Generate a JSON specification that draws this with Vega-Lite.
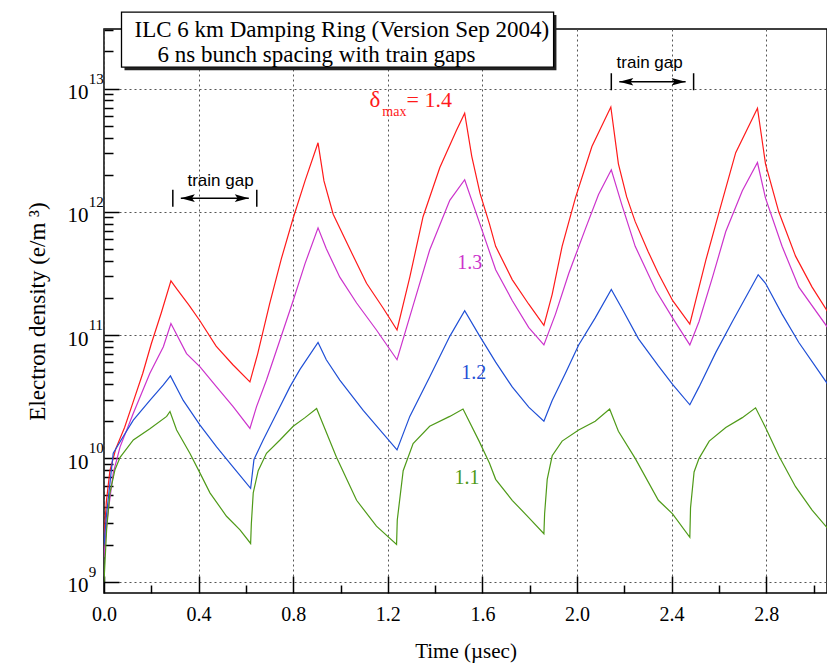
{
  "$schema": "https://vega.github.io/schema/vega-lite/v6.json",
  "width": 723,
  "height": 564,
  "autosize": "none",
  "padding": {"left": 104, "top": 29, "right": 0, "bottom": 73},
  "background": "white",
  "config": {"view": {"stroke": "black", "strokeWidth": 1.5}, "font": "Liberation Serif"},
  "resolve": {"axis": {"x": "independent", "y": "independent"}},
  "datasets": {
    "curves": [
      {"s":"1.4","t":0,"v":2.24e9},{"s":"1.4","t":0.01,"v":4.47e9},{"s":"1.4","t":0.025,"v":7.94e9},{"s":"1.4","t":0.05,"v":1.2e10},{"s":"1.4","t":0.087,"v":1.78e10},{"s":"1.4","t":0.122,"v":2.82e10},{"s":"1.4","t":0.164,"v":4.9e10},{"s":"1.4","t":0.2,"v":8.51e10},{"s":"1.4","t":0.242,"v":1.51e11},{"s":"1.4","t":0.283,"v":2.75e11},{"s":"1.4","t":0.31,"v":2.34e11},{"s":"1.4","t":0.36,"v":1.74e11},{"s":"1.4","t":0.404,"v":1.32e11},{"s":"1.4","t":0.474,"v":8.13e10},{"s":"1.4","t":0.545,"v":5.75e10},{"s":"1.4","t":0.617,"v":4.17e10},{"s":"1.4","t":0.65,"v":7.08e10},{"s":"1.4","t":0.7,"v":1.78e11},{"s":"1.4","t":0.75,"v":4.17e11},{"s":"1.4","t":0.8,"v":8.91e11},{"s":"1.4","t":0.85,"v":1.78e12},{"s":"1.4","t":0.905,"v":3.63e12},{"s":"1.4","t":0.93,"v":1.78e12},{"s":"1.4","t":0.969,"v":9.55e11},{"s":"1.4","t":1.039,"v":5.01e11},{"s":"1.4","t":1.11,"v":2.63e11},{"s":"1.4","t":1.18,"v":1.66e11},{"s":"1.4","t":1.239,"v":1.1e11},{"s":"1.4","t":1.293,"v":2.95e11},{"s":"1.4","t":1.349,"v":9.12e11},{"s":"1.4","t":1.42,"v":2.29e12},{"s":"1.4","t":1.49,"v":4.57e12},{"s":"1.4","t":1.525,"v":6.31e12},{"s":"1.4","t":1.555,"v":2.82e12},{"s":"1.4","t":1.59,"v":1.41e12},{"s":"1.4","t":1.63,"v":7.94e11},{"s":"1.4","t":1.656,"v":5.25e11},{"s":"1.4","t":1.726,"v":2.82e11},{"s":"1.4","t":1.796,"v":1.78e11},{"s":"1.4","t":1.86,"v":1.2e11},{"s":"1.4","t":1.895,"v":2.14e11},{"s":"1.4","t":1.937,"v":5.25e11},{"s":"1.4","t":1.993,"v":1.29e12},{"s":"1.4","t":2.063,"v":3.39e12},{"s":"1.4","t":2.143,"v":7.08e12},{"s":"1.4","t":2.175,"v":2.45e12},{"s":"1.4","t":2.21,"v":1.32e12},{"s":"1.4","t":2.246,"v":8.32e11},{"s":"1.4","t":2.3,"v":4.79e11},{"s":"1.4","t":2.344,"v":3.16e11},{"s":"1.4","t":2.404,"v":1.91e11},{"s":"1.4","t":2.477,"v":1.23e11},{"s":"1.4","t":2.502,"v":1.91e11},{"s":"1.4","t":2.545,"v":4.07e11},{"s":"1.4","t":2.601,"v":1e12},{"s":"1.4","t":2.671,"v":3.02e12},{"s":"1.4","t":2.763,"v":6.92e12},{"s":"1.4","t":2.797,"v":2.45e12},{"s":"1.4","t":2.853,"v":1e12},{"s":"1.4","t":2.924,"v":4.37e11},{"s":"1.4","t":2.994,"v":2.45e11},{"s":"1.4","t":3.06,"v":1.55e11},
      {"s":"1.3","t":0,"v":1.58e9},{"s":"1.3","t":0.011,"v":2.95e9},{"s":"1.3","t":0.039,"v":7.59e9},{"s":"1.3","t":0.068,"v":1.24e10},{"s":"1.3","t":0.124,"v":2.32e10},{"s":"1.3","t":0.194,"v":4.9e10},{"s":"1.3","t":0.251,"v":8.04e10},{"s":"1.3","t":0.283,"v":1.24e11},{"s":"1.3","t":0.349,"v":7.08e10},{"s":"1.3","t":0.406,"v":5.53e10},{"s":"1.3","t":0.476,"v":3.8e10},{"s":"1.3","t":0.546,"v":2.63e10},{"s":"1.3","t":0.617,"v":1.75e10},{"s":"1.3","t":0.645,"v":2.63e10},{"s":"1.3","t":0.687,"v":4.32e10},{"s":"1.3","t":0.744,"v":9.12e10},{"s":"1.3","t":0.8,"v":1.91e11},{"s":"1.3","t":0.85,"v":3.8e11},{"s":"1.3","t":0.905,"v":7.41e11},{"s":"1.3","t":0.94,"v":5.01e11},{"s":"1.3","t":0.997,"v":2.95e11},{"s":"1.3","t":1.068,"v":1.82e11},{"s":"1.3","t":1.152,"v":1.1e11},{"s":"1.3","t":1.239,"v":6.31e10},{"s":"1.3","t":1.293,"v":1.41e11},{"s":"1.3","t":1.377,"v":4.9e11},{"s":"1.3","t":1.462,"v":1.24e12},{"s":"1.3","t":1.525,"v":1.82e12},{"s":"1.3","t":1.586,"v":8.32e11},{"s":"1.3","t":1.656,"v":3.39e11},{"s":"1.3","t":1.726,"v":1.91e11},{"s":"1.3","t":1.796,"v":1.15e11},{"s":"1.3","t":1.86,"v":8.32e10},{"s":"1.3","t":1.909,"v":1.48e11},{"s":"1.3","t":1.965,"v":3.16e11},{"s":"1.3","t":2.035,"v":7.24e11},{"s":"1.3","t":2.091,"v":1.38e12},{"s":"1.3","t":2.145,"v":2.19e12},{"s":"1.3","t":2.189,"v":1.15e12},{"s":"1.3","t":2.246,"v":5.25e11},{"s":"1.3","t":2.334,"v":2.29e11},{"s":"1.3","t":2.404,"v":1.38e11},{"s":"1.3","t":2.477,"v":8.32e10},{"s":"1.3","t":2.516,"v":1.29e11},{"s":"1.3","t":2.573,"v":2.95e11},{"s":"1.3","t":2.629,"v":6.92e11},{"s":"1.3","t":2.699,"v":1.48e12},{"s":"1.3","t":2.763,"v":2.51e12},{"s":"1.3","t":2.797,"v":1.29e12},{"s":"1.3","t":2.867,"v":5.25e11},{"s":"1.3","t":2.938,"v":2.45e11},{"s":"1.3","t":3.06,"v":1.15e11},
      {"s":"1.2","t":0,"v":2.0e9},{"s":"1.2","t":0.011,"v":3.55e9},{"s":"1.2","t":0.039,"v":1.1e10},{"s":"1.2","t":0.082,"v":1.51e10},{"s":"1.2","t":0.124,"v":2.04e10},{"s":"1.2","t":0.194,"v":2.95e10},{"s":"1.2","t":0.251,"v":3.94e10},{"s":"1.2","t":0.281,"v":4.66e10},{"s":"1.2","t":0.335,"v":2.95e10},{"s":"1.2","t":0.406,"v":1.86e10},{"s":"1.2","t":0.476,"v":1.24e10},{"s":"1.2","t":0.546,"v":8.51e9},{"s":"1.2","t":0.62,"v":5.71e9},{"s":"1.2","t":0.634,"v":9.77e9},{"s":"1.2","t":0.673,"v":1.41e10},{"s":"1.2","t":0.73,"v":2.32e10},{"s":"1.2","t":0.786,"v":3.8e10},{"s":"1.2","t":0.828,"v":5.25e10},{"s":"1.2","t":0.905,"v":8.71e10},{"s":"1.2","t":0.94,"v":6.31e10},{"s":"1.2","t":0.997,"v":4.32e10},{"s":"1.2","t":1.096,"v":2.45e10},{"s":"1.2","t":1.239,"v":1.17e10},{"s":"1.2","t":1.293,"v":2.19e10},{"s":"1.2","t":1.377,"v":4.57e10},{"s":"1.2","t":1.462,"v":9.77e10},{"s":"1.2","t":1.525,"v":1.58e11},{"s":"1.2","t":1.586,"v":1.0e11},{"s":"1.2","t":1.656,"v":6.03e10},{"s":"1.2","t":1.726,"v":3.8e10},{"s":"1.2","t":1.796,"v":2.6e10},{"s":"1.2","t":1.86,"v":2.0e10},{"s":"1.2","t":1.895,"v":2.95e10},{"s":"1.2","t":1.951,"v":4.9e10},{"s":"1.2","t":2.007,"v":8.32e10},{"s":"1.2","t":2.077,"v":1.38e11},{"s":"1.2","t":2.145,"v":2.34e11},{"s":"1.2","t":2.189,"v":1.66e11},{"s":"1.2","t":2.26,"v":9.33e10},{"s":"1.2","t":2.344,"v":5.62e10},{"s":"1.2","t":2.404,"v":3.98e10},{"s":"1.2","t":2.477,"v":2.72e10},{"s":"1.2","t":2.516,"v":3.8e10},{"s":"1.2","t":2.587,"v":7.24e10},{"s":"1.2","t":2.657,"v":1.29e11},{"s":"1.2","t":2.766,"v":3.09e11},{"s":"1.2","t":2.797,"v":2.63e11},{"s":"1.2","t":2.867,"v":1.48e11},{"s":"1.2","t":2.938,"v":8.71e10},{"s":"1.2","t":3.06,"v":4.0e10},
      {"s":"1.1","t":0,"v":1.0e9},{"s":"1.1","t":0.011,"v":2.63e9},{"s":"1.1","t":0.025,"v":5.25e9},{"s":"1.1","t":0.046,"v":8.04e9},{"s":"1.1","t":0.068,"v":1.02e10},{"s":"1.1","t":0.124,"v":1.41e10},{"s":"1.1","t":0.194,"v":1.74e10},{"s":"1.1","t":0.265,"v":2.19e10},{"s":"1.1","t":0.279,"v":2.4e10},{"s":"1.1","t":0.307,"v":1.7e10},{"s":"1.1","t":0.363,"v":1.1e10},{"s":"1.1","t":0.406,"v":7.59e9},{"s":"1.1","t":0.448,"v":5.25e9},{"s":"1.1","t":0.518,"v":3.39e9},{"s":"1.1","t":0.575,"v":2.63e9},{"s":"1.1","t":0.62,"v":2.04e9},{"s":"1.1","t":0.623,"v":2.95e9},{"s":"1.1","t":0.631,"v":5.25e9},{"s":"1.1","t":0.652,"v":7.94e9},{"s":"1.1","t":0.687,"v":1.1e10},{"s":"1.1","t":0.744,"v":1.41e10},{"s":"1.1","t":0.8,"v":1.82e10},{"s":"1.1","t":0.85,"v":2.14e10},{"s":"1.1","t":0.899,"v":2.54e10},{"s":"1.1","t":0.983,"v":1.02e10},{"s":"1.1","t":1.068,"v":4.57e9},{"s":"1.1","t":1.152,"v":2.82e9},{"s":"1.1","t":1.237,"v":2.0e9},{"s":"1.1","t":1.24,"v":3.16e9},{"s":"1.1","t":1.265,"v":7.94e9},{"s":"1.1","t":1.307,"v":1.32e10},{"s":"1.1","t":1.377,"v":1.82e10},{"s":"1.1","t":1.462,"v":2.19e10},{"s":"1.1","t":1.518,"v":2.51e10},{"s":"1.1","t":1.586,"v":1.38e10},{"s":"1.1","t":1.63,"v":9.12e9},{"s":"1.1","t":1.656,"v":6.76e9},{"s":"1.1","t":1.726,"v":4.57e9},{"s":"1.1","t":1.796,"v":3.31e9},{"s":"1.1","t":1.86,"v":2.45e9},{"s":"1.1","t":1.863,"v":3.55e9},{"s":"1.1","t":1.874,"v":6.76e9},{"s":"1.1","t":1.895,"v":1.05e10},{"s":"1.1","t":1.937,"v":1.38e10},{"s":"1.1","t":2.007,"v":1.7e10},{"s":"1.1","t":2.077,"v":2.0e10},{"s":"1.1","t":2.138,"v":2.51e10},{"s":"1.1","t":2.175,"v":1.66e10},{"s":"1.1","t":2.246,"v":1.0e10},{"s":"1.1","t":2.344,"v":4.57e9},{"s":"1.1","t":2.404,"v":3.55e9},{"s":"1.1","t":2.477,"v":2.29e9},{"s":"1.1","t":2.48,"v":3.98e9},{"s":"1.1","t":2.495,"v":7.76e9},{"s":"1.1","t":2.516,"v":1.0e10},{"s":"1.1","t":2.559,"v":1.38e10},{"s":"1.1","t":2.629,"v":1.78e10},{"s":"1.1","t":2.699,"v":2.14e10},{"s":"1.1","t":2.755,"v":2.57e10},{"s":"1.1","t":2.797,"v":1.78e10},{"s":"1.1","t":2.853,"v":1.05e10},{"s":"1.1","t":2.924,"v":5.89e9},{"s":"1.1","t":2.994,"v":3.8e9},{"s":"1.1","t":3.06,"v":2.7e9}
    ],
    "exps": [{"v":1e9,"e":"9"},{"v":1e10,"e":"10"},{"v":1e11,"e":"11"},{"v":1e12,"e":"12"},{"v":1e13,"e":"13"}],
    "gaps": [{"start":0.291,"end":0.646,"v":1.29e12},{"start":2.145,"end":2.493,"v":1.135e13}],
    "labels": [
      {"s":"1.3","t":1.494,"v":3.43e11},
      {"s":"1.2","t":1.511,"v":4.42e10},
      {"s":"1.1","t":1.482,"v":6.17e9}
    ],
    "one": [{}]
  },
  "layer": [
    {
      "data": {"name": "curves"},
      "mark": {"type": "line", "strokeWidth": 1.2, "clip": true},
      "encoding": {
        "x": {"field": "t", "type": "quantitative",
          "scale": {"domain": [0, 3.057], "nice": false, "zero": false},
          "axis": {"orient": "bottom", "values": [0,0.4,0.8,1.2,1.6,2.0,2.4,2.8], "format": ".1f", "title": "Time (µsec)",
            "grid": true, "gridDash": [2,3], "gridColor": "#555", "gridOpacity": 1, "gridWidth": 1,
            "domain": false, "tickSize": -17, "tickColor": "black", "tickWidth": 1.5,
            "labelFont": "Liberation Serif", "labelFontSize": 20, "labelColor": "black", "labelPadding": 28, "labelFlush": false,
            "titleFont": "Liberation Serif", "titleFontSize": 21, "titleFontWeight": "normal", "titleColor": "black", "titlePadding": 16}},
        "y": {"field": "v", "type": "quantitative",
          "scale": {"type": "log", "domain": [8.09e8, 3.04e13], "nice": false},
          "axis": {"orient": "left", "values": [1e9,1e10,1e11,1e12,1e13], "labelExpr": "'10'", "title": "Electron density (e/m ³)",
            "grid": true, "gridDash": [2,3], "gridColor": "#555", "gridOpacity": 1, "gridWidth": 1,
            "domain": false, "tickSize": -15, "tickColor": "black", "tickWidth": 1.5,
            "labelFont": "Liberation Serif", "labelFontSize": 21, "labelColor": "black", "labelPadding": 31, "labelBaseline": "middle", "labelOffset": 4,
            "titleFont": "Liberation Serif", "titleFontSize": 23, "titleFontWeight": "normal", "titleColor": "black", "titlePadding": 18}},
        "color": {"field": "s", "type": "nominal",
          "scale": {"domain": ["1.1","1.2","1.3","1.4"], "range": ["#4f9a18","#1f4fd6","#cc33cc","#ff1a1a"]}, "legend": null}
      }
    },
    {
      "data": {"name": "exps"},
      "mark": {"type": "text", "align": "left", "baseline": "alphabetic", "fontSize": 15, "dy": -5, "color": "black", "font": "Liberation Serif"},
      "encoding": {
        "x": {"datum": -0.065, "type": "quantitative",
          "axis": {"orient": "bottom", "values": [0.2,0.6,1.0,1.4,1.8,2.2,2.6,3.0], "labels": false, "grid": false, "domain": false, "title": null,
            "tickSize": -8, "tickColor": "black", "tickWidth": 1.5}},
        "y": {"field": "v", "type": "quantitative",
          "axis": {"orient": "left", "values": [2e9,3e9,4e9,5e9,6e9,7e9,8e9,9e9,2e10,3e10,4e10,5e10,6e10,7e10,8e10,9e10,2e11,3e11,4e11,5e11,6e11,7e11,8e11,9e11,2e12,3e12,4e12,5e12,6e12,7e12,8e12,9e12,2e13,3e13],
            "labels": false, "grid": false, "domain": false, "title": null, "tickSize": -9, "tickColor": "black", "tickWidth": 1.5}},
        "text": {"field": "e"}
      }
    },
    {
      "data": {"name": "one"},
      "mark": {"type": "rect", "fill": "#222"},
      "encoding": {
        "x": {"datum": 0.0867, "type": "quantitative", "axis": null},
        "x2": {"datum": 1.913},
        "y": {"datum": 3.94e13, "type": "quantitative", "axis": null},
        "y2": {"datum": 1.41e13}
      }
    },
    {
      "data": {"name": "one"},
      "mark": {"type": "rect", "fill": "white", "stroke": "black", "strokeWidth": 1.3},
      "encoding": {
        "x": {"datum": 0.074, "type": "quantitative", "axis": null},
        "x2": {"datum": 1.901},
        "y": {"datum": 4.17e13, "type": "quantitative", "axis": null},
        "y2": {"datum": 1.49e13}
      }
    },
    {
      "data": {"name": "one"},
      "mark": {"type": "text", "text": "ILC 6 km Damping Ring (Version Sep 2004)", "align": "left", "baseline": "alphabetic", "fontSize": 23, "font": "Liberation Serif", "color": "black"},
      "encoding": {
        "x": {"datum": 0.129, "type": "quantitative", "axis": null},
        "y": {"datum": 2.62e13, "type": "quantitative", "axis": null}
      }
    },
    {
      "data": {"name": "one"},
      "mark": {"type": "text", "text": "6 ns bunch spacing with train gaps", "align": "left", "baseline": "alphabetic", "fontSize": 23, "font": "Liberation Serif", "color": "black"},
      "encoding": {
        "x": {"datum": 0.226, "type": "quantitative", "axis": null},
        "y": {"datum": 1.64e13, "type": "quantitative", "axis": null}
      }
    },
    {
      "data": {"name": "one"},
      "mark": {"type": "text", "text": "δ", "align": "left", "baseline": "alphabetic", "fontSize": 23, "font": "Liberation Serif", "color": "#ff1a1a"},
      "encoding": {
        "x": {"datum": 1.123, "type": "quantitative", "axis": null},
        "y": {"datum": 7.08e12, "type": "quantitative", "axis": null}
      }
    },
    {
      "data": {"name": "one"},
      "mark": {"type": "text", "text": "max", "align": "left", "baseline": "alphabetic", "fontSize": 14, "font": "Liberation Serif", "color": "#ff1a1a"},
      "encoding": {
        "x": {"datum": 1.177, "type": "quantitative", "axis": null},
        "y": {"datum": 6.0e12, "type": "quantitative", "axis": null}
      }
    },
    {
      "data": {"name": "one"},
      "mark": {"type": "text", "text": "= 1.4", "align": "left", "baseline": "alphabetic", "fontSize": 22, "font": "Liberation Serif", "color": "#ff1a1a"},
      "encoding": {
        "x": {"datum": 1.279, "type": "quantitative", "axis": null},
        "y": {"datum": 7.08e12, "type": "quantitative", "axis": null}
      }
    },
    {
      "data": {"name": "labels"},
      "mark": {"type": "text", "align": "left", "baseline": "alphabetic", "fontSize": 20, "font": "Liberation Serif"},
      "encoding": {
        "x": {"field": "t", "type": "quantitative", "axis": null},
        "y": {"field": "v", "type": "quantitative", "axis": null},
        "text": {"field": "s"},
        "color": {"field": "s", "type": "nominal", "legend": null}
      }
    },
    {
      "data": {"name": "gaps"},
      "mark": {"type": "tick", "orient": "vertical", "size": 17, "thickness": 1.5, "color": "black", "opacity": 1},
      "encoding": {
        "x": {"field": "start", "type": "quantitative", "axis": null},
        "y": {"field": "v", "type": "quantitative", "axis": null}
      }
    },
    {
      "data": {"name": "gaps"},
      "mark": {"type": "tick", "orient": "vertical", "size": 17, "thickness": 1.5, "color": "black", "opacity": 1},
      "encoding": {
        "x": {"field": "end", "type": "quantitative", "axis": null},
        "y": {"field": "v", "type": "quantitative", "axis": null}
      }
    },
    {
      "data": {"name": "gaps"},
      "mark": {"type": "rule", "color": "black", "strokeWidth": 1.5, "xOffset": 8, "x2Offset": -8},
      "encoding": {
        "x": {"field": "start", "type": "quantitative", "axis": null},
        "x2": {"field": "end"},
        "y": {"field": "v", "type": "quantitative", "axis": null}
      }
    },
    {
      "data": {"name": "gaps"},
      "mark": {"type": "point", "shape": "M -1 0 L 1 -0.55 L 0.6 0 L 1 0.55 Z", "filled": true, "color": "black", "opacity": 1, "size": 196, "xOffset": 15},
      "encoding": {
        "x": {"field": "start", "type": "quantitative", "axis": null},
        "y": {"field": "v", "type": "quantitative", "axis": null}
      }
    },
    {
      "data": {"name": "gaps"},
      "mark": {"type": "point", "shape": "M 1 0 L -1 -0.55 L -0.6 0 L -1 0.55 Z", "filled": true, "color": "black", "opacity": 1, "size": 196, "xOffset": -15},
      "encoding": {
        "x": {"field": "end", "type": "quantitative", "axis": null},
        "y": {"field": "v", "type": "quantitative", "axis": null}
      }
    },
    {
      "data": {"name": "one"},
      "mark": {"type": "text", "text": "train gap", "align": "center", "baseline": "alphabetic", "fontSize": 17, "font": "Liberation Sans", "color": "black"},
      "encoding": {
        "x": {"datum": 0.4926, "type": "quantitative", "axis": null},
        "y": {"datum": 1.62e12, "type": "quantitative", "axis": null}
      }
    },
    {
      "data": {"name": "one"},
      "mark": {"type": "text", "text": "train gap", "align": "center", "baseline": "alphabetic", "fontSize": 17, "font": "Liberation Sans", "color": "black"},
      "encoding": {
        "x": {"datum": 2.307, "type": "quantitative", "axis": null},
        "y": {"datum": 1.46e13, "type": "quantitative", "axis": null}
      }
    }
  ]
}
